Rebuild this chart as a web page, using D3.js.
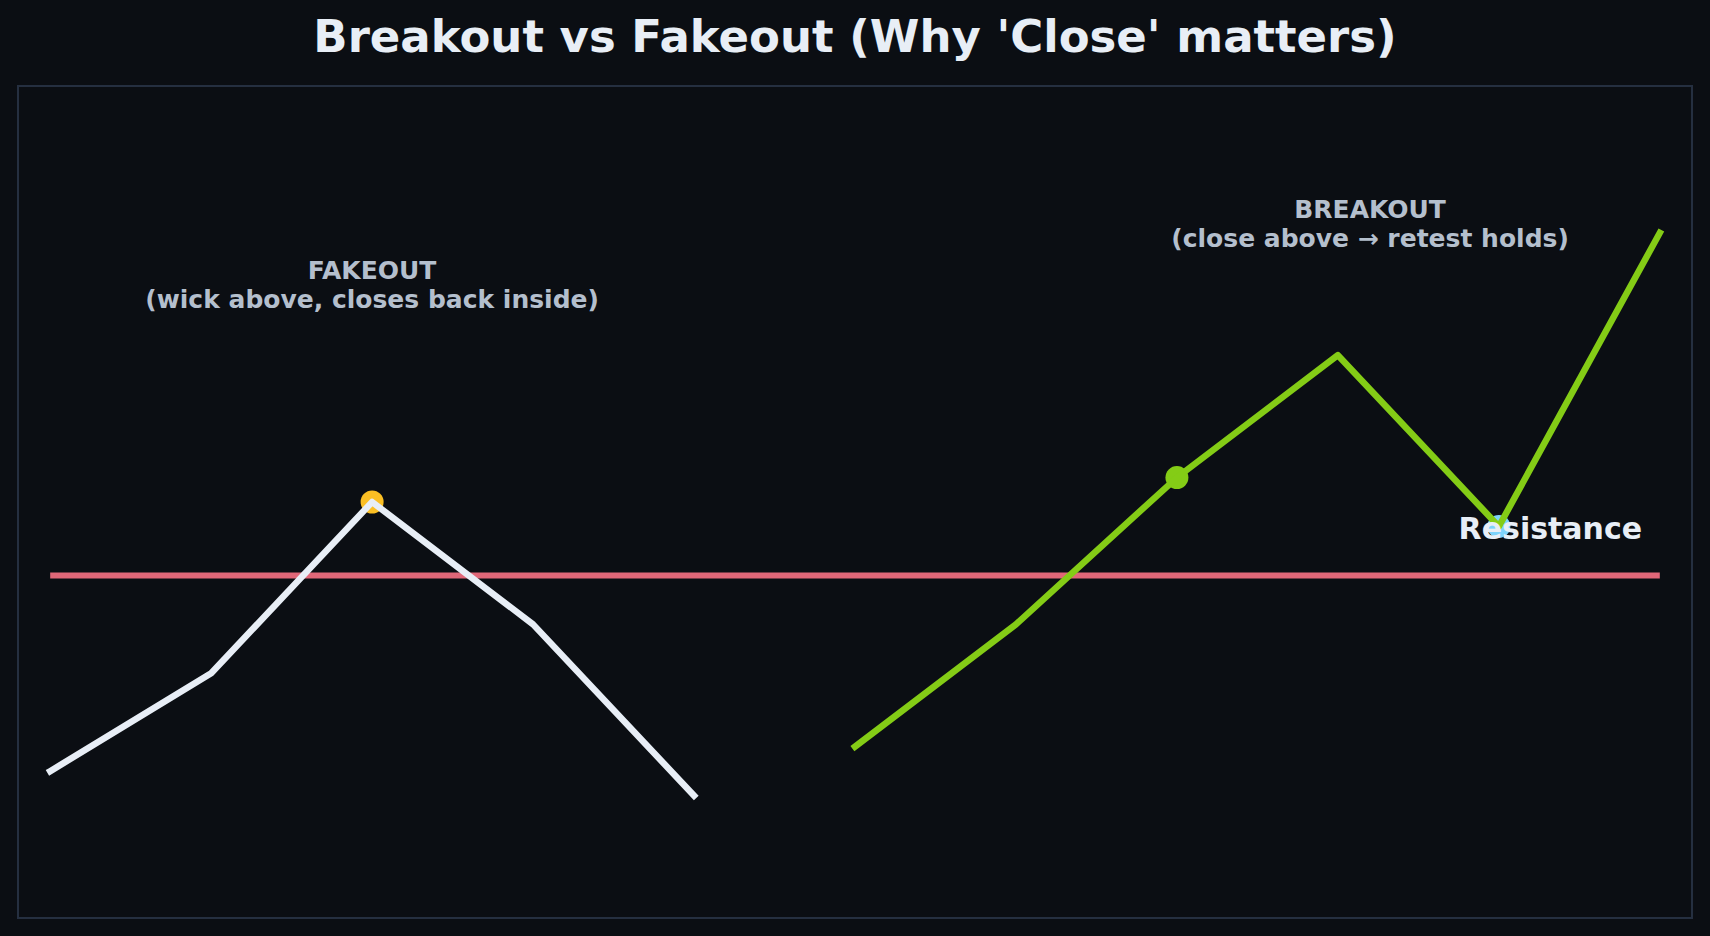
<!DOCTYPE html>
<html>

<head>
    <meta charset="UTF-8">
    <script src="https://cdn.jsdelivr.net/npm/d3@7"></script>
    <style>
        body { margin: 0; background: #0b0e13; }
        svg { display: block; font-family: "DejaVu Sans", sans-serif; }
    </style>
</head>

<body>
    <svg></svg>

    <script>
        let width = 1710, height = 936;

        // data
        const fakeoutX = [0, 1, 2, 3, 4];
        const fakeoutY = [96, 98, 101.5, 99, 95.5];
        const breakoutX = [5, 6, 7, 8, 9, 10];
        const breakoutY = [96.5, 99, 102, 104.5, 101, 107];
        const resistance = 100;
        const wickPoint = [2, 101.5];      // orange marker
        const closePoint = [7, 102];       // green marker
        const retestPoint = [9, 101];      // blue marker
        const fakeoutLabel = ["FAKEOUT", "(wick above, closes back inside)"];
        const breakoutLabel = ["BREAKOUT", "(close above \u2192 retest holds)"];

        let svg = d3.select("svg")
            .attr("width", width)
            .attr("height", height)

        svg.append("rect")
            .attr("width", width).attr("height", height)
            .attr("fill", "#0b0e13")

        let x = d3.scaleLinear().domain([-0.2, 10.2]).range([18, 1692])
        let y = d3.scaleLinear().domain([93, 110]).range([918, 86])

        // axes frame
        svg.append("rect")
            .attr("x", x(-0.2)).attr("y", y(110))
            .attr("width", x(10.2) - x(-0.2))
            .attr("height", y(93) - y(110))
            .attr("fill", "none")
            .attr("stroke", "#252f40")
            .attr("stroke-width", 2)

        svg.append("text")
            .attr("x", width / 2).attr("y", 52)
            .attr("text-anchor", "middle")
            .attr("font-size", 45).attr("font-weight", "bold")
            .attr("fill", "#e8eef6")
            .text("Breakout vs Fakeout (Why 'Close' matters)")

        // resistance line
        svg.append("line")
            .attr("x1", x(0)).attr("x2", x(10))
            .attr("y1", y(resistance)).attr("y2", y(resistance))
            .attr("stroke", "#e06778")
            .attr("stroke-width", 6)

        // markers under the lines
        let markers = [[wickPoint, "#fbbf24"], [closePoint, "#84cc16"], [retestPoint, "#7dd3fc"]]
        svg.append("g").selectAll("circle")
            .data(markers)
            .enter()
            .append("circle")
            .attr("cx", d => x(d[0][0]))
            .attr("cy", d => y(d[0][1]))
            .attr("r", 11.5)
            .attr("fill", d => d[1])

        let line = d3.line().x(d => x(d[0])).y(d => y(d[1]))

        svg.append("path")
            .datum(fakeoutX.map((v, i) => [v, fakeoutY[i]]))
            .attr("d", line)
            .attr("fill", "none")
            .attr("stroke", "#e8eef6")
            .attr("stroke-width", 6.5)
            .attr("stroke-linejoin", "round")
            .attr("stroke-linecap", "square")

        svg.append("path")
            .datum(breakoutX.map((v, i) => [v, breakoutY[i]]))
            .attr("d", line)
            .attr("fill", "none")
            .attr("stroke", "#84cc16")
            .attr("stroke-width", 6.5)
            .attr("stroke-linejoin", "round")
            .attr("stroke-linecap", "square")

        // labels
        function label(lines, cx, top) {
            let t = svg.append("text")
                .attr("text-anchor", "middle")
                .attr("font-size", 25).attr("font-weight", "bold")
                .attr("fill", "#b4bfcd")
            lines.forEach((s, i) => {
                t.append("tspan").attr("x", x(cx)).attr("y", top + i * 29).text(s)
            })
        }
        label(fakeoutLabel, 2, 279)
        label(breakoutLabel, 8.2, 218)

        svg.append("text")
            .attr("x", x(9.89)).attr("y", y(100.74))
            .attr("text-anchor", "end")
            .attr("font-size", 30).attr("font-weight", "bold")
            .attr("fill", "#e8eef6")
            .text("Resistance")
    </script>

</body>

</html>
